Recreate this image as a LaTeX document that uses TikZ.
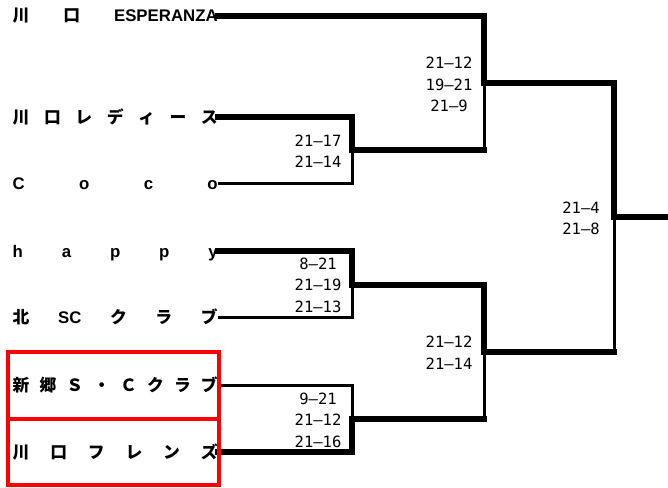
\documentclass[tikz,border=0pt]{standalone}
\usepackage{fontspec}
\setmainfont{Liberation Sans}
\newfontfamily\jpfont{Noto Sans CJK JP}
\newfontfamily\monofont{DejaVu Sans Mono}
\newcommand\J[1]{{\jpfont\bfseries #1}}
\newcommand\tnm[1]{\makebox[205pt][s]{#1}}
\tikzset{
  team/.style={anchor=west, inner sep=0pt, text height=13pt, text depth=1pt,
    font=\fontsize{16.8}{18}\selectfont\bfseries},
  score/.style={inner sep=0pt, align=center, font=\fontsize{15.5}{21.5}\selectfont\monofont},
  thin/.style={line width=3pt, black},
  thick/.style={line width=6.5pt, black, line cap=rect},
  redbox/.style={line width=4.5pt, red}
}
\begin{document}
\begin{tikzpicture}[x=1pt,y=-1pt]
\useasboundingbox (0,0) rectangle (668,487);
% teams
\node[team] (t1) at (12.5,16)  {\tnm{\J{川}\hfill\J{口}\hfill ESPERANZA}};
\node[team] (t2) at (12.5,117) {\tnm{\J{川}\hfill\J{口}\hfill\J{レ}\hfill\J{デ}\hfill\J{ィ}\hfill\J{ー}\hfill\J{ス}}};
\node[team] (t3) at (12.5,183) {\tnm{C\hfill o\hfill c\hfill o}};
\node[team] (t4) at (12.5,251) {\tnm{h\hfill a\hfill p\hfill p\hfill y}};
\node[team] (t5) at (12.5,317) {\tnm{\J{北}\hfill SC\hfill\J{ク}\hfill\J{ラ}\hfill\J{ブ}}};
\node[team] (t6) at (12.5,385) {\tnm{\J{新}\hfill\J{郷}\hfill\J{Ｓ}\hfill\J{・}\hfill\J{Ｃ}\hfill\J{ク}\hfill\J{ラ}\hfill\J{ブ}}};
\node[team] (t7) at (12.5,452) {\tnm{\J{川}\hfill\J{口}\hfill\J{フ}\hfill\J{レ}\hfill\J{ン}\hfill\J{ズ}}};
% junctions
\coordinate (a23) at (352,150);
\coordinate (a45) at (352,285);
\coordinate (a67) at (352,419);
\coordinate (b1) at (484,83);
\coordinate (b2) at (484,352);
\coordinate (c) at (614,217);
\coordinate (w) at (668,217);
% thin lines
\draw[thin] (t3.east) -| (a23);
\draw[thin] (t5.east) -| (a45);
\draw[thin] (t6.east) -| (a67);
\draw[thin] (a23 -| b1) -- (b1);
\draw[thin] (a67 -| b2) -- (b2);
\draw[thin] (b2 -| c) -- (c);
% thick lines
\draw[thick] (t1.east) -| (b1) -- (b1 -| c) -- (c) -- (w);
\draw[thick] (t2.east) -| (a23) -- (a23 -| b1);
\draw[thick] (t4.east) -| (a45) -- (a45 -| b2) -- (b2) -- (b2 -| c);
\draw[thick] (t7.east) -| (a67) -- (a67 -| b2);
% red boxes
\draw[redbox] (8,352) rectangle (219,419);
\draw[redbox] (8,419) rectangle (219,485);
% scores
\node[score] (g1) at (449,84.5) {21–12\\19–21\\21–9};
\node[score] (g2) at (318,151) {21–17\\21–14};
\node[score] (g3) at (318,285) {8–21\\21–19\\21–13};
\node[score] (g4) at (318,420) {9–21\\21–12\\21–16};
\node[score] (g5) at (449,352.5) {21–12\\21–14};
\node[score] (g6) at (581,218.5) {21–4\\21–8};
\end{tikzpicture}
\end{document}
